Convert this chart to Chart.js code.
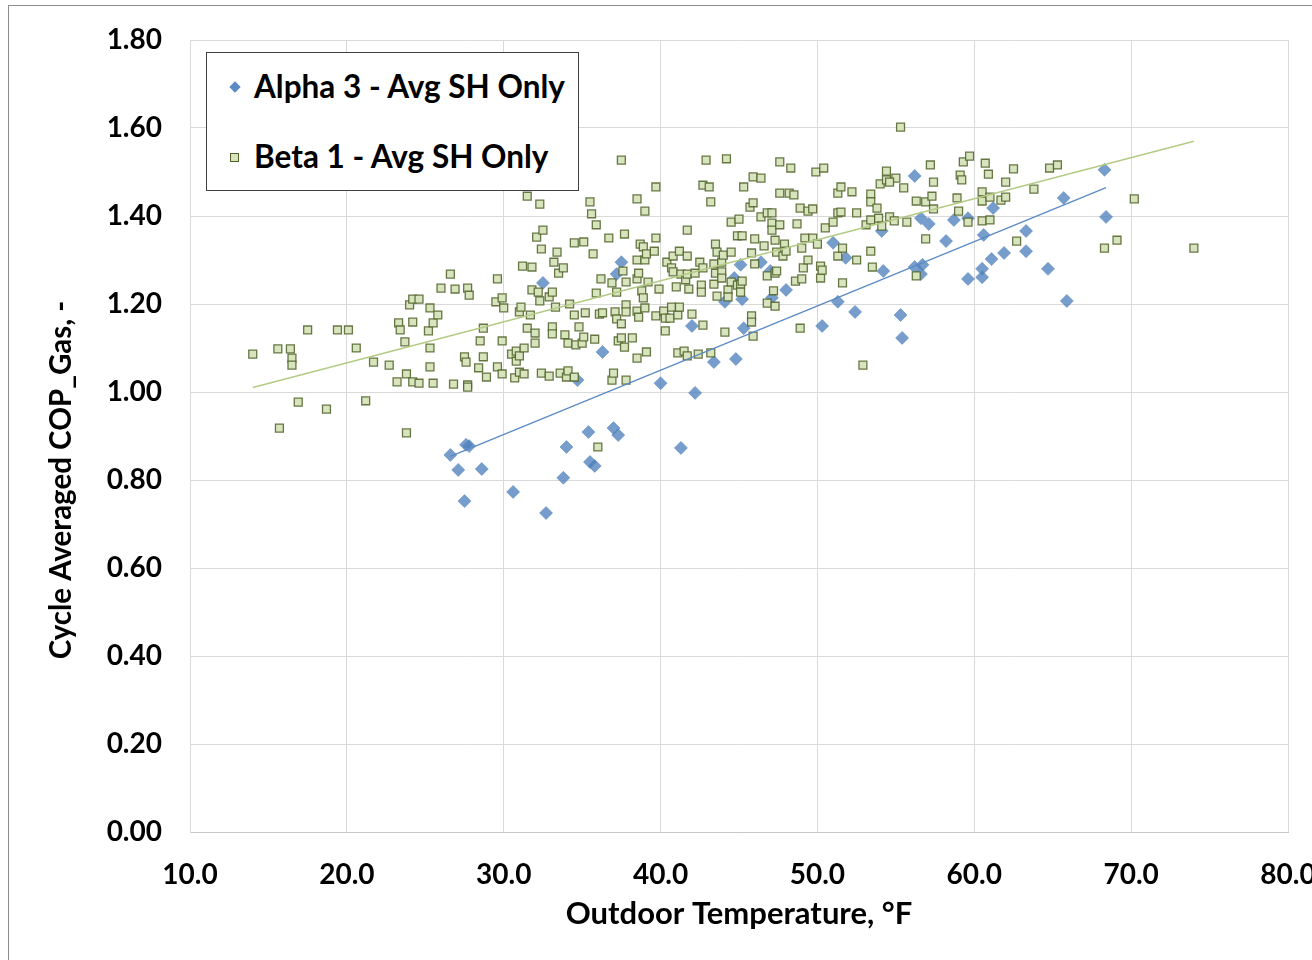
<!DOCTYPE html>
<html>
<head>
<meta charset="utf-8">
<script src="https://cdn.jsdelivr.net/npm/chart.js@4.4.1/dist/chart.umd.min.js"></script>
<style>
  html, body { margin: 0; padding: 0; background: #fff; overflow: hidden; }
  #wrap { position: relative; width: 1312px; height: 960px; overflow: hidden; }
  #frame { position: absolute; left: 8px; top: 5px; width: 1400px; height: 1000px; border: 1px solid #8c8c8c; }
  #chart { position: absolute; left: 0; top: 0; }
  #legend { position: absolute; left: 206px; top: 52px; width: 371px; height: 137px;
            border: 1px solid #404040; background: #fff; font: bold 31.5px Lato, sans-serif; color: #000; }
  .item { position: absolute; left: 47px; height: 40px; line-height: 40px; white-space: nowrap; }
  .mark { position: absolute; }
  .diamond { width: 8px; height: 8px; background: #5b89c4; transform: rotate(45deg); }
  .square { width: 7px; height: 7px; background: #d7e4bd; border: 1px solid #4f6228; }
</style>
</head>
<body>
<div id="wrap">
  <div id="frame"></div>
  <canvas id="chart" width="1312" height="960"></canvas>
  <div id="legend">
    <div class="mark diamond" style="left:24px; top:30px;"></div>
    <div class="item" style="top:13px;">Alpha 3 - Avg SH Only</div>
    <div class="mark square" style="left:23px; top:100px;"></div>
    <div class="item" style="top:83px;">Beta 1 - Avg SH Only</div>
  </div>
</div>
<script>
// outdoor temperature (°F), cycle averaged COP
const alphaPoints = [
  [26.6,0.857],[27.1,0.823],[27.6,0.880],[27.8,0.877],[27.5,0.752],[28.6,0.825],[30.6,0.773],[32.7,0.725],
  [34.0,0.875],[33.8,0.805],[35.5,0.841],[35.8,0.832],[35.4,0.909],[37.0,0.918],[37.3,0.902],[34.7,1.027],
  [36.3,1.091],[40.0,1.020],[41.3,0.873],[42.2,0.998],[43.4,1.068],[44.8,1.075],[32.5,1.248],[37.5,1.295],
  [37.2,1.268],[42.0,1.150],[44.1,1.205],[44.7,1.259],[45.1,1.289],[45.2,1.211],[45.3,1.145],[46.4,1.295],
  [47.0,1.275],[47.1,1.214],[48.0,1.232],[50.3,1.150],[51.0,1.339],[51.8,1.305],[51.3,1.205],[52.4,1.182],
  [54.1,1.366],[54.2,1.275],[55.3,1.175],[55.4,1.123],[56.2,1.491],[56.2,1.284],[56.6,1.395],[56.7,1.289],
  [56.6,1.268],[57.1,1.382],[58.2,1.343],[58.7,1.391],[59.6,1.395],[59.6,1.257],[60.5,1.280],[60.5,1.261],
  [60.6,1.357],[61.1,1.302],[61.2,1.418],[61.9,1.316],[63.3,1.366],[63.3,1.320],[64.7,1.280],[65.7,1.441],
  [65.9,1.207],[68.3,1.505],[68.4,1.398]
];

const betaPoints = [
  [14.0,1.086],[15.6,1.098],[15.7,0.918],[16.4,1.098],[16.5,1.077],[16.5,1.061],[16.9,0.977],[17.5,1.141],
  [18.7,0.961],[19.4,1.141],[20.1,1.141],[20.6,1.100],[21.2,0.980],[21.7,1.068],[22.7,1.061],[23.2,1.023],
  [23.3,1.157],[23.4,1.141],[23.7,1.114],[23.8,0.907],[23.8,1.041],[24.0,1.198],[24.2,1.211],[24.2,1.159],
  [24.2,1.023],[24.6,1.211],[24.6,1.020],[25.2,1.139],[25.3,1.100],[25.3,1.057],[25.3,1.191],[25.5,1.157],
  [25.5,1.020],[25.8,1.175],[26.0,1.236],[26.6,1.268],[26.8,1.018],[26.9,1.234],[27.5,1.080],[27.6,1.068],
  [27.7,1.236],[27.7,1.016],[27.7,1.011],[27.8,1.220],[28.4,1.055],[28.5,1.116],[28.7,1.145],[28.7,1.080],
  [28.9,1.034],[29.5,1.205],[29.6,1.057],[29.6,1.257],[29.9,1.041],[29.9,1.214],[29.9,1.116],[30.0,1.191],
  [30.5,1.086],[30.7,1.032],[30.8,1.093],[30.8,1.070],[31.0,1.182],[31.0,1.082],[31.0,1.045],[31.1,1.193],
  [31.2,1.286],[31.3,1.041],[31.3,1.100],[31.5,1.445],[31.5,1.145],[31.7,1.175],[31.8,1.284],[31.8,1.232],
  [32.0,1.134],[32.0,1.111],[32.1,1.352],[32.2,1.227],[32.3,1.427],[32.3,1.207],[32.4,1.325],[32.4,1.043],
  [32.5,1.368],[32.9,1.216],[32.9,1.036],[33.1,1.148],[33.1,1.132],[33.1,1.227],[33.2,1.295],[33.3,1.193],
  [33.4,1.318],[33.5,1.270],[33.6,1.043],[33.8,1.282],[33.9,1.130],[34.0,1.034],[34.1,1.111],[34.1,1.048],
  [34.2,1.200],[34.5,1.034],[34.5,1.175],[34.5,1.339],[34.6,1.107],[34.8,1.148],[35.0,1.111],[35.1,1.341],
  [35.1,1.125],[35.2,1.180],[35.5,1.432],[35.6,1.405],[35.7,1.314],[35.8,1.120],[35.9,1.380],[35.9,1.225],
  [36.0,0.875],[36.1,1.177],[36.2,1.257],[36.3,1.180],[36.7,1.350],[36.9,1.248],[36.9,1.027],[37.0,1.043],
  [37.1,1.182],[37.2,1.227],[37.2,1.166],[37.3,1.116],[37.5,1.527],[37.5,1.155],[37.5,1.123],[37.6,1.275],
  [37.7,1.359],[37.7,1.102],[37.8,1.250],[37.8,1.198],[37.8,1.182],[37.8,1.027],[38.2,1.123],[38.5,1.439],
  [38.5,1.077],[38.5,1.300],[38.5,1.257],[38.5,1.184],[38.6,1.270],[38.6,1.170],[38.7,1.336],[38.8,1.230],
  [38.9,1.214],[38.9,1.330],[39.0,1.411],[39.0,1.191],[39.0,1.300],[39.1,1.314],[39.1,1.091],[39.2,1.250],
  [39.6,1.320],[39.7,1.173],[39.7,1.466],[39.7,1.350],[39.9,1.234],[40.2,1.184],[40.3,1.168],[40.3,1.139],
  [40.4,1.295],[40.6,1.168],[40.7,1.282],[40.7,1.193],[40.8,1.309],[40.8,1.273],[41.0,1.239],[41.1,1.175],
  [41.1,1.089],[41.2,1.320],[41.2,1.193],[41.3,1.268],[41.5,1.093],[41.6,1.255],[41.7,1.368],[41.7,1.082],
  [41.7,1.309],[41.7,1.268],[41.8,1.234],[42.0,1.177],[42.2,1.270],[42.4,1.086],[42.5,1.295],[42.6,1.243],
  [42.6,1.227],[42.7,1.470],[42.7,1.282],[42.7,1.152],[42.9,1.527],[43.1,1.466],[43.2,1.432],[43.2,1.089],
  [43.4,1.291],[43.4,1.245],[43.5,1.336],[43.5,1.270],[43.6,1.318],[43.6,1.218],[43.9,1.295],[43.9,1.273],
  [43.9,1.259],[44.0,1.311],[44.1,1.136],[44.2,1.530],[44.3,1.232],[44.3,1.216],[44.5,1.386],[44.5,1.318],
  [44.5,1.250],[44.9,1.355],[44.9,1.243],[45.0,1.393],[45.1,1.245],[45.1,1.227],[45.2,1.355],[45.2,1.252],
  [45.3,1.466],[45.7,1.420],[45.8,1.316],[45.8,1.173],[45.8,1.159],[45.9,1.489],[45.9,1.430],[45.9,1.127],
  [46.0,1.348],[46.0,1.291],[46.4,1.486],[46.4,1.398],[46.6,1.332],[46.8,1.407],[46.8,1.264],[46.8,1.202],
  [47.1,1.407],[47.1,1.384],[47.1,1.368],[47.2,1.230],[47.3,1.270],[47.3,1.345],[47.3,1.195],[47.4,1.275],
  [47.4,1.318],[47.6,1.380],[47.6,1.523],[47.6,1.452],[47.8,1.309],[47.9,1.336],[48.0,1.320],[48.2,1.452],
  [48.3,1.509],[48.5,1.448],[48.6,1.252],[48.7,1.382],[48.9,1.418],[48.9,1.145],[49.0,1.257],[49.0,1.327],
  [49.1,1.282],[49.2,1.350],[49.4,1.411],[49.4,1.300],[49.7,1.350],[49.7,1.416],[49.9,1.500],[50.0,1.336],
  [50.2,1.286],[50.2,1.259],[50.3,1.277],[50.4,1.509],[50.5,1.373],[51.0,1.386],[51.3,1.452],[51.3,1.407],
  [51.3,1.309],[51.5,1.466],[51.5,1.409],[51.6,1.327],[51.6,1.248],[52.2,1.455],[52.5,1.407],[52.5,1.300],
  [52.9,1.061],[53.1,1.380],[53.4,1.450],[53.4,1.432],[53.4,1.391],[53.4,1.320],[53.5,1.284],[53.8,1.418],
  [53.9,1.395],[54.0,1.473],[54.1,1.377],[54.4,1.502],[54.4,1.482],[54.6,1.398],[55.0,1.486],[54.6,1.477],
  [55.3,1.602],[55.5,1.464],[54.9,1.389],[55.7,1.386],[56.3,1.434],[56.3,1.264],[56.9,1.432],[56.9,1.348],
  [57.2,1.516],[57.3,1.445],[57.4,1.477],[57.4,1.416],[58.9,1.441],[59.0,1.411],[59.1,1.493],[59.2,1.482],
  [59.3,1.523],[59.6,1.386],[59.7,1.536],[60.5,1.455],[60.5,1.434],[60.5,1.389],[60.7,1.520],[60.9,1.495],
  [61.0,1.391],[61.0,1.443],[61.7,1.436],[62.0,1.477],[62.0,1.443],[62.5,1.507],[62.7,1.343],[63.8,1.461],
  [64.8,1.509],[65.3,1.516],[68.3,1.327],[69.1,1.345],[70.2,1.439],[74.0,1.327]
];

const xTicks = [10, 20, 30, 40, 50, 60, 70, 80];
const yTicks = [0, 0.2, 0.4, 0.6, 0.8, 1.0, 1.2, 1.4, 1.6, 1.8];

// Excel style linear trendline over the data range
function trend(points) {
  const n = points.length;
  let sx = 0, sy = 0, sxx = 0, sxy = 0;
  points.forEach(([x, y]) => { sx += x; sy += y; sxx += x * x; sxy += x * y; });
  const m = (n * sxy - sx * sy) / (n * sxx - sx * sx);
  const b = (sy - m * sx) / n;
  const xs = points.map(p => p[0]);
  const lo = Math.min(...xs), hi = Math.max(...xs);
  return [{ x: lo, y: m * lo + b }, { x: hi, y: m * hi + b }];
}

const toXY = pts => pts.map(([x, y]) => ({ x, y }));

const font = 'Lato';
Chart.defaults.font.family = font;
Chart.defaults.color = '#000';

const yTitle = {
  id: 'yTitle',
  afterDraw(chart) {
    const ctx = chart.ctx;
    ctx.save();
    ctx.translate(61, 480);
    ctx.rotate(-Math.PI / 2);
    ctx.font = 'bold 29.5px ' + font;
    ctx.fillStyle = '#000';
    ctx.textAlign = 'center';
    ctx.textBaseline = 'middle';
    ctx.fillText('Cycle Averaged COP_Gas, -', 0, 0);
    ctx.restore();
  }
};

new Chart(document.getElementById('chart'), {
  type: 'scatter',
  data: {
    datasets: [
      {
        type: 'line',
        data: trend(alphaPoints),
        borderColor: '#5b89c4',
        borderWidth: 1.2,
        pointRadius: 0,
        fill: false,
        order: 0
      },
      {
        type: 'line',
        data: trend(betaPoints),
        borderColor: '#b3cb85',
        borderWidth: 1.5,
        pointRadius: 0,
        fill: false,
        order: 0
      },
      {
        label: 'Beta 1 - Avg SH Only',
        data: toXY(betaPoints),
        pointStyle: 'rect',
        pointRadius: 5.6,
        backgroundColor: '#d7e4bd',
        borderColor: 'rgba(79,98,40,0.85)',
        borderWidth: 1.3,
        order: 1
      },
      {
        label: 'Alpha 3 - Avg SH Only',
        data: toXY(alphaPoints),
        pointStyle: 'rectRot',
        pointRadius: 6.5,
        backgroundColor: 'rgba(79,129,189,0.78)',
        borderColor: 'rgba(79,129,189,0.5)',
        borderWidth: 1,
        order: 2
      }
    ]
  },
  options: {
    responsive: false,
    animation: false,
    layout: { padding: { left: 0, top: 40, right: 24, bottom: 0 } },
    plugins: {
      legend: { display: false },
      tooltip: { enabled: false }
    },
    scales: {
      x: {
        type: 'linear',
        min: 10,
        max: 80,
        afterBuildTicks: s => { s.ticks = xTicks.map(v => ({ value: v })); },
        afterFit: s => { s.height = 128; s.paddingLeft = 0; s.paddingRight = 0; },
        grid: { color: '#d9d9d9', drawTicks: false },
        border: { color: '#c8c8c8' },
        ticks: {
          autoSkip: false,
          maxRotation: 0,
          padding: 26,
          font: { size: 28, weight: 'bold' },
          callback: v => v.toFixed(1)
        },
        title: {
          display: true,
          text: 'Outdoor Temperature, °F',
          font: { size: 31, weight: 'bold' },
          padding: { top: 0, bottom: 27 }
        }
      },
      y: {
        min: 0,
        max: 1.8,
        afterBuildTicks: s => { s.ticks = yTicks.map(v => ({ value: v })); },
        afterFit: s => { s.width = 190; s.paddingTop = 0; s.paddingBottom = 0; },
        grid: { color: '#d9d9d9', drawTicks: false },
        border: { color: '#d9d9d9' },
        ticks: {
          padding: 28,
          font: { size: 28, weight: 'bold' },
          callback: v => v.toFixed(2)
        }
      }
    }
  },
  plugins: [yTitle]
});
</script>
</body>
</html>
